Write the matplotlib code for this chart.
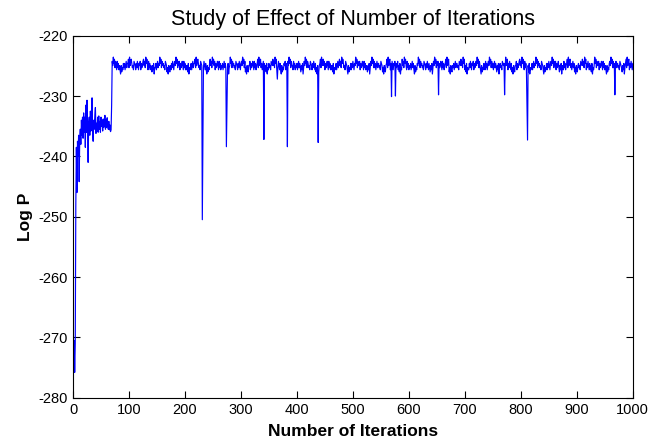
#!/usr/bin/env python3
import numpy as np
import matplotlib.pyplot as plt

plt.rcParams['font.family'] = ['Liberation Sans', 'DejaVu Sans']
plt.rcParams['axes.unicode_minus'] = False

# log P for iterations 0..69 (burn-in)
early_logp = [-270.0, -275.0, -270.5, -275.8, -271.0, -248.0, -238.5, -246.0, -237.5, -240.0,
              -236.5, -244.2, -237.0, -235.5, -238.0, -234.0, -236.5, -233.5, -237.0, -232.8,
              -236.0, -233.5, -238.5, -231.5, -236.0, -230.7, -235.0, -241.0, -234.5, -233.5,
              -236.5, -232.5, -235.8, -234.0, -230.3, -236.0, -237.5, -234.0, -235.5, -233.2,
              -231.9, -236.2, -234.5, -235.8, -233.5, -236.0, -233.3, -235.5, -234.2, -236.0,
              -233.5, -235.0, -234.0, -235.8, -233.8, -235.2, -234.5, -233.2, -235.5, -234.0,
              -235.2, -233.6, -234.8, -235.5, -234.2, -235.6, -234.8, -235.9, -235.6, -231.5]

# plateau from iteration 70 on: one digit per iteration, 0 = -226.7 ... 9 = -223.55
plateau_codes = (
    "7596847 5374635 3152436 4635746 6849578 6453765 3647536"
    "5736457 8574968 5374635 4253614 4635746 5968475 6453765"
    "2415325 3647536 7596847 5736457 5374635 3526143 4635746"
    "6849578 6453765 3647536 3152436 8574968 5736457 5374635"
    "4635746 4253614 5968475 6453765 3647536 7596847 2415325"
    "5736457 5374635 6849578 4635746 3526143 6453765 8574968"
    "3647536 3152436 5736457 5968475 5374635 4635746 4253614"
    "7596847 6453765 3647536 2415325 6849578 5736457 5374635"
    "3526143 4635746 8574968 6453765 3152436 3647536 5968475"
    "5736457 5374635 4253614 7596847 4635746 6453765 2415325"
    "6849578 3647536 5736457 3526143 8574968 5374635 4635746"
    "3152436 5968475 6453765 3647536 4253614 7596847 5736457"
    "5374635 6849578 2415325 4635746 6453765 8574968 3526143"
    "3647536 5736457 5968475 3152436 5374635 7596847 4635746"
    "4253614 6453765 6849578 3647536 2415325 5736457 8574968"
    "5374635 3526143 4635746 5968475 6453765 3152436 3647536"
    "7596847 5736457 4253614 5374635 6849578 4635746 2415325"
    "6453765 8574968 3647536 3526143 5968475 5736457 5374635"
    "3152436 7596847 4635746 6453765 4253614 6849578 3647536"
)
code_low = -226.7
code_step = 0.35

# isolated dips in the plateau (iteration, log P)
spike_iters = [231, 232, 274, 275, 341, 365, 383, 438, 569, 576, 653, 771, 811, 812, 968]
spike_vals = [-250.5, -237.0, -238.4, -232.0, -237.2, -227.2, -238.4, -237.7,
              -230.1, -230.0, -229.8, -229.8, -231.0, -237.3, -229.8]

plateau = [code_low + int(c) * code_step for c in plateau_codes if c.isdigit()]
logp = np.array(early_logp + plateau)
for it, v in zip(spike_iters, spike_vals):
    logp[it] = v
iters = np.arange(len(logp))

fig = plt.figure(figsize=(6.49, 4.45), dpi=100)
ax = fig.add_axes([0.1125, 0.1063, 0.8625, 0.8135])

ax.plot(iters, logp, color='#0000ff', linewidth=0.85)

ax.set_xlim(0, 1000)
ax.set_ylim(-280, -220)
ax.set_xticks(np.arange(0, 1001, 100))
ax.set_yticks(np.arange(-280, -219, 10))

ax.tick_params(direction='in', top=True, right=True, length=5, labelsize=10.5, width=0.8)
for s in ax.spines.values():
    s.set_linewidth(0.8)

ax.set_title('Study of Effect of Number of Iterations', fontsize=15.5, pad=8)
ax.set_xlabel('Number of Iterations', fontsize=12.5, fontweight='bold', labelpad=5)
ax.set_ylabel('Log P', fontsize=12.5, fontweight='bold', labelpad=4)

fig.savefig('out.png', dpi=100)
